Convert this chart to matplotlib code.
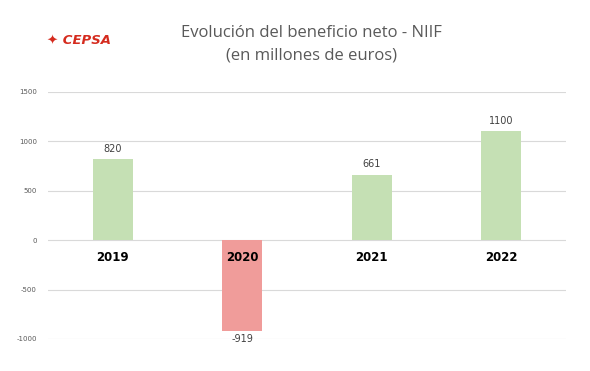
import matplotlib.pyplot as plt

plt.rcParams['axes.unicode_minus'] = False

# data
years = ['2019', '2020', '2021', '2022']
beneficio = [820, -919, 661, 1100]
bar_colors = ['#C5E0B4', '#F09C9A', '#C5E0B4', '#C5E0B4']

fig = plt.figure(figsize=(5.9, 3.71), dpi=100)
ax = fig.add_axes([0.0814, 0.0863, 0.878, 0.666])

x = range(len(years))
bars = ax.bar(x, beneficio, width=0.31, color=bar_colors, zorder=3)

ax.set_ylim(-1000, 1500)
ax.set_xlim(-0.5, len(years) - 0.5)
ax.set_yticks([-1000, -500, 0, 500, 1000, 1500])
ax.tick_params(axis='y', labelsize=5, colors='#595959', length=0, pad=8)
ax.set_xticks([])
ax.grid(axis='y', color='#D9D9D9', linewidth=0.8, zorder=0)
for s in ax.spines.values():
    s.set_visible(False)

# value labels
for i, v in enumerate(beneficio):
    if v >= 0:
        ax.annotate(str(v), (i, v), xytext=(0, 4), textcoords='offset points',
                    ha='center', va='bottom', fontsize=7, color='#404040')
    else:
        ax.annotate(str(v), (i, v), xytext=(0, -2), textcoords='offset points',
                    ha='center', va='top', fontsize=7, color='#404040')

# year labels under the zero line
for i, y in enumerate(years):
    ax.annotate(y, (i, 0), xytext=(0, -8), textcoords='offset points',
                ha='center', va='top', fontsize=8.5, fontweight='bold',
                color='black', zorder=4)

# title
fig.text(0.528, 0.91, 'Evolución del beneficio neto - NIIF',
         ha='center', va='center', fontsize=12, color='#595959', family='Open Sans')
fig.text(0.528, 0.85, '(en millones de euros)',
         ha='center', va='center', fontsize=12, color='#595959', family='Open Sans')

# logo
fig.text(0.08, 0.89, '✦ CEPSA', ha='left', va='center', fontsize=9.5,
         fontweight='bold', style='italic', color='#D52B1E', family='DejaVu Sans')

fig.savefig('out.png', dpi=100, facecolor='white')
